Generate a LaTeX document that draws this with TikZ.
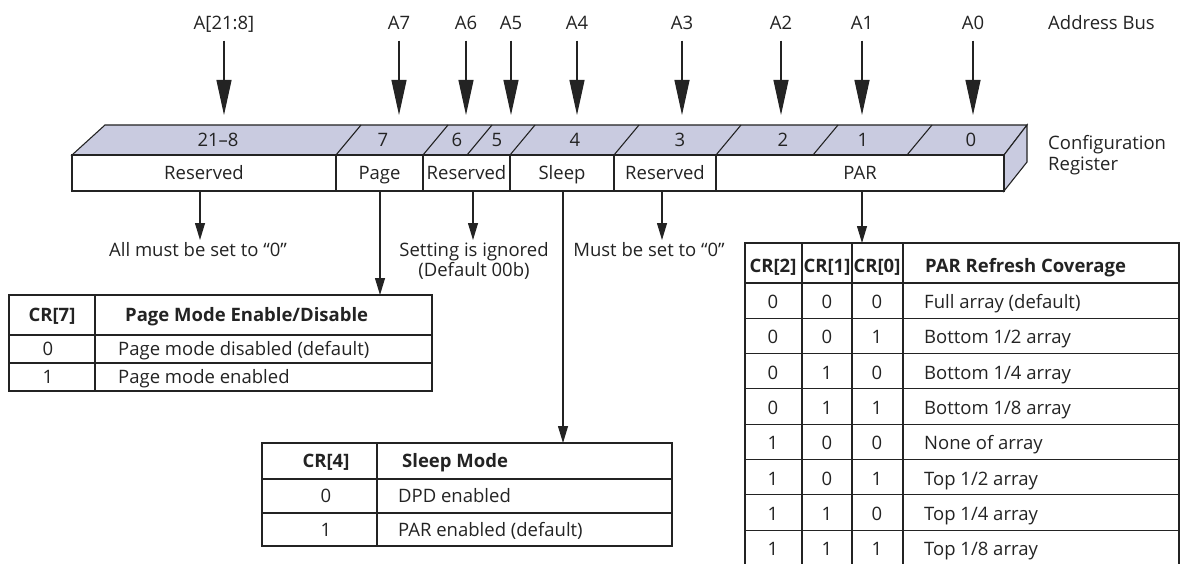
\documentclass[tikz,border=0pt]{standalone}
\usepackage{fontspec}
\setmainfont{Open Sans}
\usetikzlibrary{arrows.meta}
\definecolor{regtop}{RGB}{201,203,224}
\definecolor{ink}{RGB}{35,35,35}
\begin{document}
\begin{tikzpicture}[x=1pt,y=-1pt,
  font=\fontsize{18.5}{21}\selectfont,
  every node/.style={inner sep=0pt, text=ink, text height=13pt, text depth=0pt},
  hdr/.style={font=\fontsize{18.5}{21}\selectfont\bfseries},
  cellbox/.style={draw=ink, fill=white, line width=1.1pt, minimum height=36pt},
  gridline/.style={draw=ink, line width=1.1pt},
  bigarr/.style={draw=ink, line width=1.1pt, -{Triangle[length=35pt,width=15pt]}},
  smallarr/.style={draw=ink, line width=1.1pt, -{Triangle[length=17pt,width=10pt]}}]
\useasboundingbox (0,0) rectangle (1182,564);

% ---------- register: top and side faces ----------
\filldraw[fill=regtop, draw=ink, line width=1.1pt] (72,155) -- (105,125) -- (1027,125) -- (1004,155) -- cycle;
\filldraw[fill=regtop, draw=ink, line width=1.1pt] (1004,155) -- (1027,125) -- (1027,162) -- (1004,191) -- cycle;
\foreach \xx in {336,423,467,510,614,716,813,907}
  \draw[gridline] (\xx,155) -- ++(25,-30);

% bit numbers
\node (b218) at (218,140) {21–8};
\node (b7) at (383,140) {7};
\node (b6) at (457,140) {6};
\node (b5) at (497,140) {5};
\node (b4) at (575,140) {4};
\node (b3) at (680,140) {3};
\node (b2) at (783,140) {2};
\node (b1) at (863,140) {1};
\node (b0) at (971,140) {0};

% ---------- register: front face cells ----------
\node[cellbox, minimum width=264pt] (rA) at (204,173) {Reserved};
\node[cellbox, minimum width=87pt] (rP) at (379.5,173) {Page};
\node[cellbox, minimum width=87pt] (rB) at (466.5,173) {Reserved};
\node[cellbox, minimum width=104pt] (rS) at (562,173) {Sleep};
\node[cellbox, minimum width=102pt] (rC) at (665,173) {Reserved};
\node[cellbox, minimum width=288pt] (rPAR) at (860,173) {PAR};

% ---------- address bus ----------
\node (a218) at (224,23) {A[21:8]};
\node (a7) at (399,23) {A7};
\node (a6) at (466,23) {A6};
\node (a5) at (511,23) {A5};
\node (a4) at (577,23) {A4};
\node (a3) at (682,23) {A3};
\node (a2) at (781,23) {A2};
\node (a1) at (862,23) {A1};
\node (a0) at (973,23) {A0};
\foreach \n in {a218,a7,a6,a5,a4,a3,a2,a1,a0}{
  \coordinate (\n tip) at (\n.south |- 0,115);
  \draw[bigarr] (\n.south) ++(0,11) coordinate (\n top) (\n top) -- (\n tip);
}
\node[anchor=west] (bus) at (1048,23) {Address Bus};
\node[anchor=west] (cfg1) at (1048,143) {Configuration};
\node[anchor=west] (cfg2) at (1048,164) {Register};

% ---------- notes under the register ----------
\node (nA) at (198,250) {All must be set to “0”};
\node (nB1) at (474,250) {Setting is ignored};
\node (nB2) at (474,270) {(Default 00b)};
\node (nC) at (649,250) {Must be set to “0”};
\coordinate (tA) at (200,240);
\coordinate (tB) at (473,240);
\coordinate (tC) at (662,240);
\draw[smallarr] (rA.south -| tA) -- (tA);
\draw[smallarr] (rB.south -| tB) -- (tB);
\draw[smallarr] (rC.south -| tC) -- (tC);

% ---------- CR[7] table ----------
\draw[gridline] (9,295) rectangle (432,391);
\draw[gridline] (9,335) -- (432,335) (9,363) -- (432,363) (95,295) -- (95,391);
\node[hdr] (p7h) at (52,315) {CR[7]};
\node[hdr, anchor=west] (p7t) at (125,315) {Page Mode Enable/Disable};
\node (p70) at (48,349) {0};
\node[anchor=west] (p70t) at (118,349) {Page mode disabled (default)};
\node (p71) at (48,377) {1};
\node[anchor=west] (p71t) at (118,377) {Page mode enabled};
\coordinate (tP) at (380,295);
\draw[smallarr] (rP.south -| tP) -- (tP);

% ---------- CR[4] table ----------
\draw[gridline] (262,443) rectangle (672,546);
\draw[gridline] (262,479) -- (672,479) (262,513) -- (672,513) (377,443) -- (377,546);
\node[hdr] (s4h) at (326,461) {CR[4]};
\node[hdr, anchor=west] (s4t) at (402,461) {Sleep Mode};
\node (s40) at (326,496) {0};
\node[anchor=west] (s40t) at (398,496) {DPD enabled};
\node (s41) at (326,530) {1};
\node[anchor=west] (s41t) at (398,530) {PAR enabled (default)};
\coordinate (tS) at (563,443);
\draw[smallarr] (rS.south -| tS) -- (tS);

% ---------- PAR table ----------
\draw[gridline] (745,564) -- (745,243) -- (1179,243) -- (1179,564);
\foreach \xx in {802,852,903} \draw[gridline] (\xx,243) -- (\xx,564);
\foreach \yy in {283,318.3,353.6,388.9,424.2,459.5,494.8,530.1}
  \draw[gridline] (745,\yy) -- (1179,\yy);
\node[hdr] (q2) at (773,266) {CR[2]};
\node[hdr] (q1) at (827,266) {CR[1]};
\node[hdr] (q0) at (877,266) {CR[0]};
\node[hdr, anchor=west] (qt) at (925,266) {PAR Refresh Coverage};
\coordinate (tPAR) at (862,243);
\draw[smallarr] (rPAR.south -| tPAR) -- (tPAR);
\foreach \i/\c/\b/\a/\t in {0/0/0/0/Full array (default),1/0/0/1/Bottom 1\slash 2 array,2/0/1/0/Bottom 1\slash 4 array,3/0/1/1/Bottom 1\slash 8 array,4/1/0/0/None of array,5/1/0/1/Top 1\slash 2 array,6/1/1/0/Top 1\slash 4 array,7/1/1/1/Top 1\slash 8 array}{
  \pgfmathsetmacro{\yc}{283+35.3*\i+19}
  \node (r\i c2) at (773,\yc) {\c};
  \node (r\i c1) at (827,\yc) {\b};
  \node (r\i c0) at (877,\yc) {\a};
  \node[anchor=west] (r\i t) at (924,\yc) {\t};
}
\end{tikzpicture}
\end{document}
